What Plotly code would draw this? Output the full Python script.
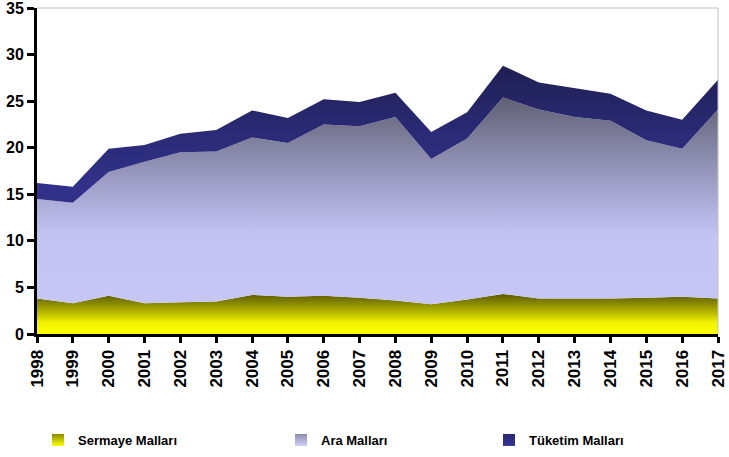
import plotly.graph_objects as go

years = list(range(1998, 2018))

# Sermaye malları (bottom layer)
sermaye = [3.8, 3.3, 4.1, 3.3, 3.4, 3.5, 4.2, 4.0, 4.1, 3.9,
           3.6, 3.2, 3.7, 4.3, 3.8, 3.8, 3.8, 3.9, 4.0, 3.8]
# Ara malları (middle layer)
ara = [10.7, 10.8, 13.3, 15.2, 16.1, 16.1, 16.9, 16.5, 18.4, 18.4,
       19.7, 15.6, 17.3, 21.1, 20.3, 19.5, 19.1, 16.9, 15.9, 20.3]
# Tüketim malları (top layer)
tuketim = [1.7, 1.7, 2.5, 1.8, 2.0, 2.3, 2.9, 2.7, 2.7, 2.6,
           2.6, 2.9, 2.8, 3.4, 2.9, 3.1, 2.9, 3.2, 3.1, 3.2]

names = ["Sermaye Malları", "Ara Malları", "Tüketim Malları"]

scales = [
    [[0, "#ffff00"], [0.035, "#f2f200"], [0.075, "#a8a800"],
     [0.12, "#5e5e00"], [1, "#5e5e00"]],
    [[0, "#c8c8f8"], [0.3, "#c4c4f4"], [0.45, "#a2a2cc"],
     [0.6, "#7e7e9c"], [0.73, "#5e5e72"], [1, "#505060"]],
    [[0, "#33338f"], [0.45, "#31318a"], [0.6, "#2b2b78"],
     [0.85, "#1e1e50"], [1, "#1a1a44"]],
]
# legend swatch colours (top, bottom)
swatch = [("#8a8a00", "#ffff00"), ("#8c8ca8", "#d0d0f8"), ("#2a2a6e", "#34349a")]

fig = go.Figure()

for name, vals, cs in zip(names, [sermaye, ara, tuketim], scales):
    fig.add_trace(go.Scatter(
        x=years, y=vals, name=name, stackgroup="one", showlegend=False,
        mode="lines", line=dict(width=0),
        fillgradient=dict(type="vertical", start=0, stop=35, colorscale=cs),
    ))

legend_ids = ["legend", "legend2", "legend3"]
for name, (c_top, c_bot), lid in zip(names, swatch, legend_ids):
    fig.add_trace(go.Scatter(
        x=[None], y=[None], name=name, mode="markers", legend=lid,
        marker=dict(symbol="square", size=12, color=c_top,
                    line=dict(width=0),
                    gradient=dict(type="vertical", color=c_bot)),
    ))

font = "Liberation Sans, Arial, sans-serif"
leg_font = dict(family=font, size=13, weight="bold", color="black")


def leg(xpx):
    return dict(xref="paper", yref="container",
                x=(xpx - 37) / 681, xanchor="left", y=(457 - 440) / 457,
                yanchor="middle", font=leg_font, bgcolor="rgba(0,0,0,0)",
                borderwidth=0)


fig.update_layout(
    width=729, height=457,
    margin=dict(l=37, r=11, t=8, b=123),
    paper_bgcolor="white", plot_bgcolor="white",
    font=dict(family=font, color="black"),
    legend=leg(38),
    legend2=leg(281),
    legend3=leg(489),
    xaxis=dict(range=[1998, 2017], tickmode="array", tickvals=years,
               ticktext=[str(y) for y in years], tickangle=-90,
               showgrid=False, zeroline=False, automargin=False,
               ticklabeloverflow="allow",
               showline=True, linecolor="black", linewidth=3,
               ticks="outside", ticklen=6, tickwidth=3, tickcolor="black",
               tickfont=dict(size=17, weight="bold")),
    yaxis=dict(range=[0, 35], dtick=5, showgrid=False, zeroline=False,
               automargin=False, ticklabeloverflow="allow",
               showline=True, linecolor="black", linewidth=3,
               ticks="outside", ticklen=7, tickwidth=3, tickcolor="black",
               tickfont=dict(size=16, weight="bold")),
    shapes=[dict(type="line", xref="paper", yref="paper", x0=0, x1=1,
                 y0=1, y1=1, line=dict(color="#c0c0c0", width=1)),
            dict(type="line", xref="paper", yref="paper", x0=1, x1=1,
                 y0=0, y1=1, line=dict(color="#c0c0c0", width=1))],
)

fig.write_html(
    "out.html",
    config={"displayModeBar": False},
    post_script=("document.body.style.margin='0';"
                 "document.body.style.overflow='hidden';"
                 "document.documentElement.style.overflow='hidden';"),
)
